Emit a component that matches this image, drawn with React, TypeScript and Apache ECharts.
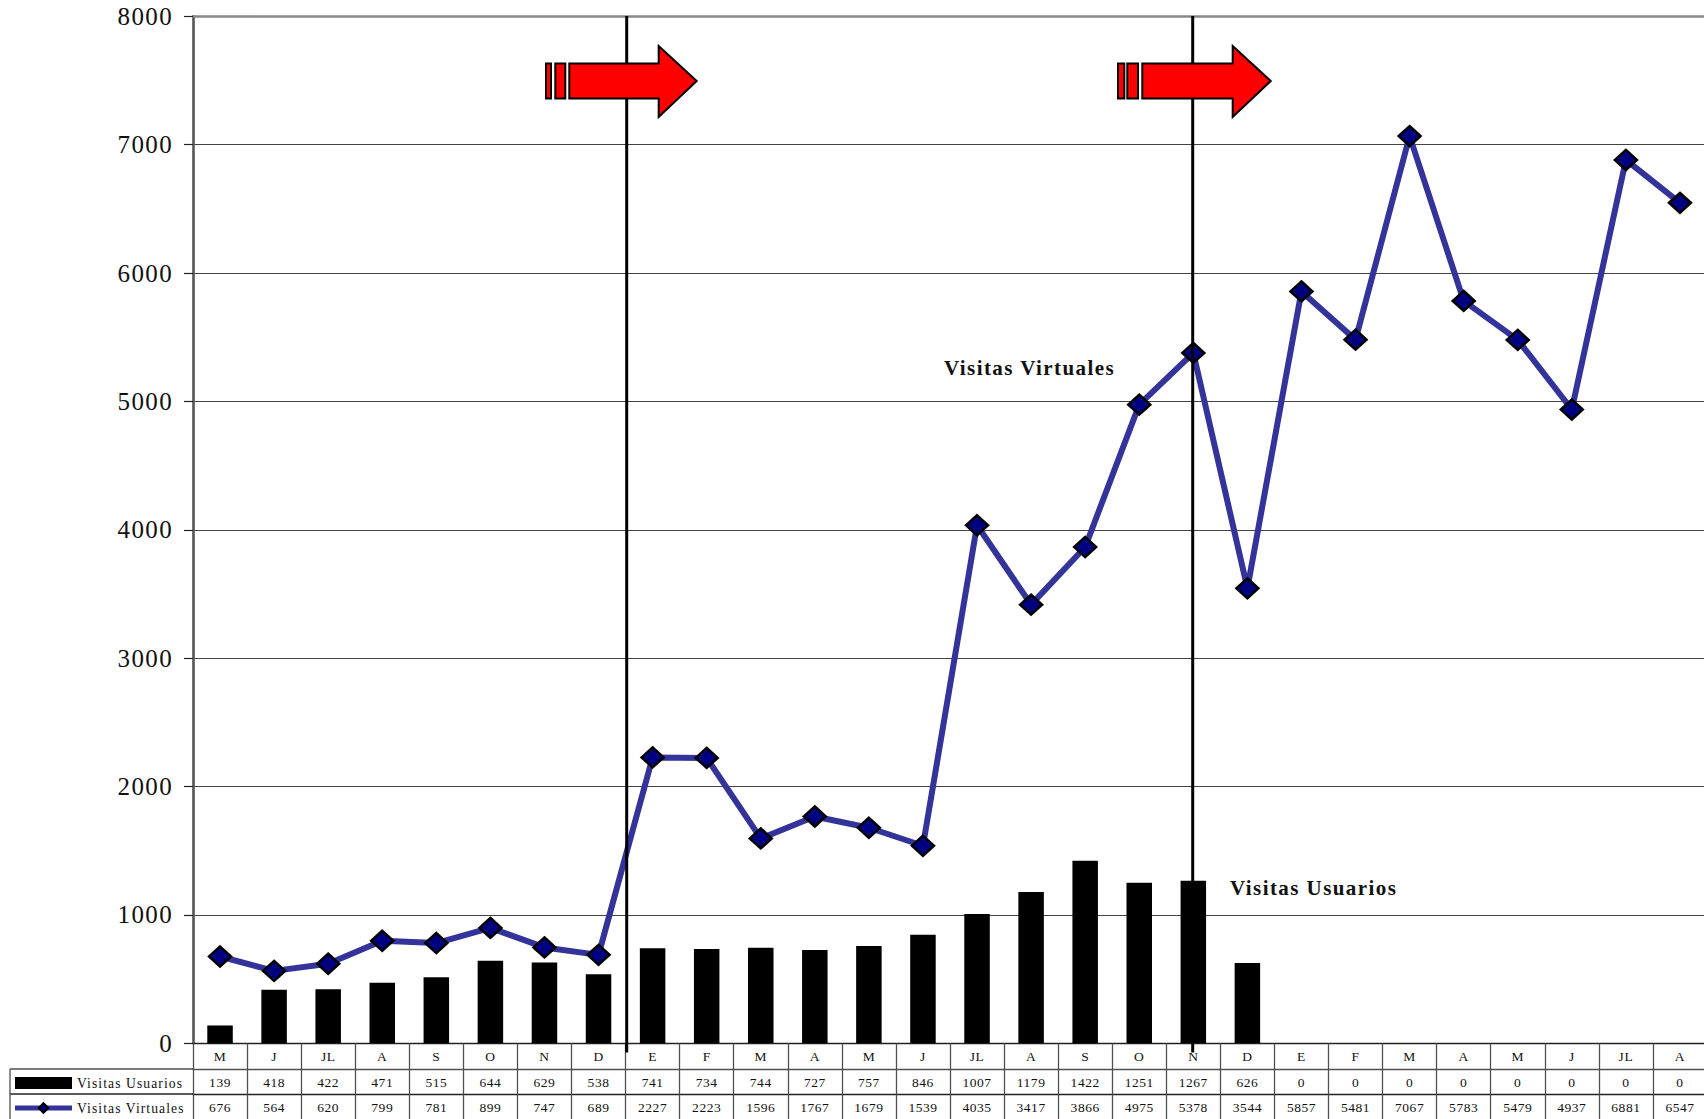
import React, { useEffect, useRef } from "react";
import * as echarts from "echarts";

const months = ["M","J","JL","A","S","O","N","D","E","F","M","A","M","J","JL","A","S","O","N","D","E","F","M","A","M","J","JL","A"];
const usuarios = [139,418,422,471,515,644,629,538,741,734,744,727,757,846,1007,1179,1422,1251,1267,626,0,0,0,0,0,0,0,0];
const virtuales = [676,564,620,799,781,899,747,689,2227,2223,1596,1767,1679,1539,4035,3417,3866,4975,5378,3544,5857,5481,7067,5783,5479,4937,6881,6547];
const yMax = 8000;
const yStep = 1000;
const nameUsuarios = "Visitas Usuarios";
const nameVirtuales = "Visitas Virtuales";

const SERIF = '"Liberation Serif", "Times New Roman", serif';
const GRID = { left: 193, top: 16.3, width: 1514, height: 1027 };
const TABLE_LINE = "#505050";
const GRID_COLORS = ["#444", "#444", "#444", "#444", "#444", "#444", "#444", "#444", "#888"];

function tableAxis(data: (string | number)[], offset: number, tick: number, lineColor: string) {
  return {
    type: "category" as const,
    position: "bottom" as const,
    offset,
    data: data.map(String),
    boundaryGap: true,
    axisLine: { show: true, onZero: false, lineStyle: { color: lineColor, width: 1.3 } },
    axisTick: { show: true, length: tick, lineStyle: { color: TABLE_LINE, width: 1.3 } },
    axisLabel: {
      show: true,
      interval: 0,
      margin: 6,
      color: "#111",
      fontFamily: SERIF,
      fontSize: 13.5,
      hideOverlap: false,
    },
    splitLine: { show: false },
  };
}

function arrow(x: number[], y0: number) {
  // x: stripe1 left/right, stripe2 left/right, shaft left, head base, tip
  const [a, b, c, d, e, f, g] = x;
  const base = { stroke: "#000", lineWidth: 2, fill: "#ff0000" };
  return [
    { type: "rect", z: 120, shape: { x: a, y: y0 - 17.5, width: b - a, height: 35 }, style: base },
    { type: "rect", z: 120, shape: { x: c, y: y0 - 17.5, width: d - c, height: 35 }, style: base },
    {
      type: "polygon",
      z: 120,
      shape: {
        points: [
          [e, y0 - 17.5], [f, y0 - 17.5], [f, y0 - 35], [g, y0],
          [f, y0 + 36], [f, y0 + 17.5], [e, y0 + 17.5],
        ],
      },
      style: base,
    },
  ];
}

function vline(x: number) {
  return {
    type: "line",
    z: 110,
    shape: { x1: x, y1: 16, x2: x, y2: 1052.5 },
    style: { stroke: "#000", lineWidth: 3 },
  };
}

function note(text: string, x: number, y: number) {
  return {
    type: "text",
    z: 130,
    x,
    y,
    style: {
      text,
      fill: "#111",
      font: `bold 21px ${SERIF}`,
      verticalAlign: "middle",
      align: "left",
    },
  };
}

function hline(x1: number, x2: number, y: number, stroke: string) {
  return { type: "line", z: 5, shape: { x1, y1: y, x2, y2: y }, style: { stroke, lineWidth: 1.3 } };
}

export default function App() {
  const ref = useRef<HTMLDivElement>(null);
  useEffect(() => {
    const chart = echarts.init(ref.current!, undefined, { renderer: "svg" });
    chart.setOption({
      animation: false,
      backgroundColor: "#fff",
      grid: { ...GRID, containLabel: false, show: false, outerBoundsMode: "none" },
      legend: {
        show: true,
        orient: "vertical",
        left: 12.5,
        top: 1076,
        padding: 0,
        itemWidth: 57,
        itemHeight: 12,
        itemGap: 11,
        lineStyle: { width: 5 },
        data: [{ name: nameUsuarios, icon: "rect" }, { name: nameVirtuales }],
        textStyle: { fontFamily: SERIF, fontSize: 13.6, color: "#111" },
      },
      xAxis: [
        tableAxis(months, 0, 26, "#222"),
        tableAxis(usuarios, 26, 25, TABLE_LINE),
        tableAxis(virtuales, 51, 25, "#222"),
        {
          type: "category",
          position: "top",
          data: months,
          axisLine: { show: true, onZero: false, lineStyle: { color: "#888", width: 2.5 } },
          axisTick: { show: false },
          axisLabel: { show: false },
          splitLine: { show: false },
        },
      ],
      yAxis: {
        type: "value",
        min: 0,
        max: yMax,
        interval: yStep,
        axisLine: { show: true, lineStyle: { color: "#555", width: 2.6 } },
        axisTick: { show: true, length: 9, lineStyle: { color: "#222", width: 1.2 } },
        axisLabel: {
          margin: 20,
          color: "#111",
          fontFamily: SERIF,
          fontSize: 25,
          formatter: (v: number) => String(v),
        },
        splitLine: { show: true, lineStyle: { color: GRID_COLORS, width: 1 } },
      },
      series: [
        {
          name: nameUsuarios,
          type: "bar",
          xAxisIndex: 0,
          data: usuarios,
          barWidth: 25.5,
          itemStyle: { color: "#000" },
        },
        {
          name: nameVirtuales,
          type: "line",
          xAxisIndex: 0,
          data: virtuales,
          symbol: "diamond",
          symbolSize: [22, 20],
          lineStyle: { color: "#333399", width: 6 },
          itemStyle: { color: "#000080", borderColor: "#000", borderWidth: 2.5 },
        },
      ],
      graphic: [
        hline(10, 193, 1069, TABLE_LINE),
        hline(10, 193, 1094, "#222"),
        { type: "line", z: 5, shape: { x1: 10, y1: 1069, x2: 10, y2: 1119 }, style: { stroke: TABLE_LINE, lineWidth: 1.3 } },
        vline(626.7),
        vline(1192.7),
        ...arrow([546, 551, 555.3, 565.3, 569.3, 658.7, 696.7], 81),
        ...arrow([1118, 1124.3, 1127.3, 1138, 1142.3, 1232.7, 1270.7], 81),
        note(nameVirtuales, 944, 368),
        note(nameUsuarios, 1230, 888),
      ],
    });
    return () => chart.dispose();
  }, []);
  return (
    <>
      <style>{`
        html, body { margin: 0; padding: 0; background: #fff; overflow: hidden; }
        .chart svg text { letter-spacing: 0.04em; }
        .chart svg text[style*="25px"] { letter-spacing: 0.055em; }
        .chart svg text[style*="bold"] { letter-spacing: 0.068em; }
        .chart svg text[style*="13.6px"] { letter-spacing: 0.08em; }
      `}</style>
      <div
        ref={ref}
        className="chart"
        style={{ position: "absolute", left: 0, top: 0, width: 1704, height: 1119, overflow: "hidden" }}
      />
    </>
  );
}
